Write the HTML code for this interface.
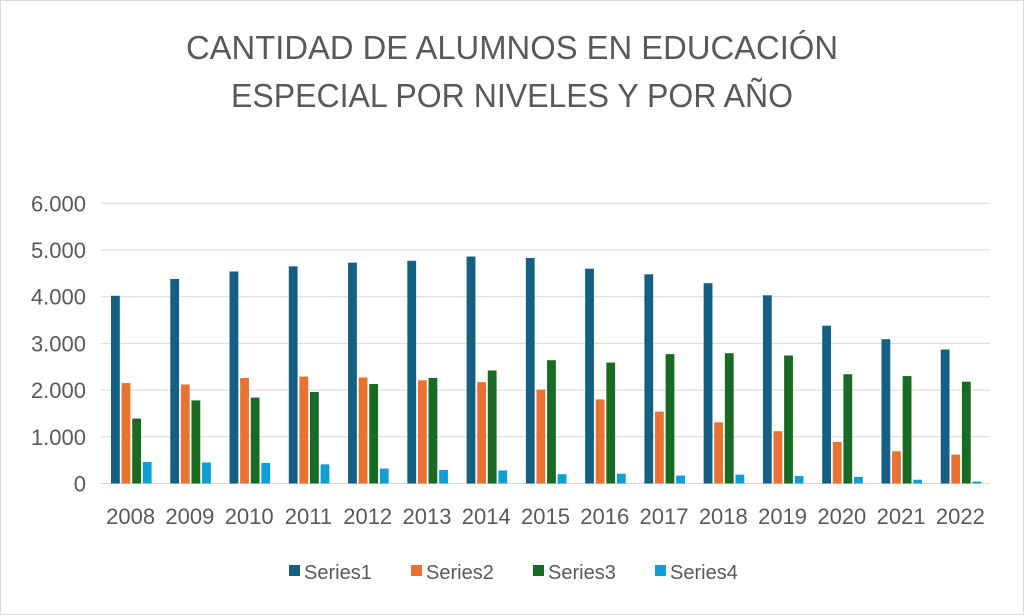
<!DOCTYPE html>
<html><head><meta charset="utf-8"><style>
html,body{margin:0;padding:0;background:#fff;}
svg{display:block;font-family:"Liberation Sans",sans-serif;}
</style></head><body>
<svg width="1024" height="615" xmlns="http://www.w3.org/2000/svg">
<rect x="0.5" y="0.5" width="1023" height="614" fill="#fff" stroke="#d9d9d9"/>
<text x="512" y="59" text-anchor="middle" font-size="33" fill="#595959" textLength="652" lengthAdjust="spacingAndGlyphs">CANTIDAD DE ALUMNOS EN EDUCACIÓN</text>
<text x="512" y="107" text-anchor="middle" font-size="33" fill="#595959" textLength="562" lengthAdjust="spacingAndGlyphs">ESPECIAL POR NIVELES Y POR AÑO</text>
<g id="grid" stroke="#d9d9d9" stroke-width="1"></g>
<g id="ylab" font-size="22" fill="#595959" text-anchor="end"></g>
<g id="bars"></g>
<g id="xlab" font-size="22" fill="#595959" text-anchor="middle"></g>
<g font-size="20" fill="#595959">
<rect x="289" y="565" width="11" height="11" fill="#156082"/><text x="304" y="579">Series1</text>
<rect x="411" y="565" width="11" height="11" fill="#e97132"/><text x="426" y="579">Series2</text>
<rect x="533" y="565" width="11" height="11" fill="#196b24"/><text x="548" y="579">Series3</text>
<rect x="655" y="565" width="11" height="11" fill="#0f9ed5"/><text x="670" y="579">Series4</text>
</g>
</svg>
<script>
var NS="http://www.w3.org/2000/svg";
function el(p,t,a,txt){var e=document.createElementNS(NS,t);for(var k in a)e.setAttribute(k,a[k]);if(txt!==undefined)e.textContent=txt;document.getElementById(p).appendChild(e);}
var y0=483.5,u=46.7/1000,L=101,R=990;
var labs=["0","1.000","2.000","3.000","4.000","5.000","6.000"];
for(var i=0;i<=6;i++){var y=y0-i*1000*u;el("grid","line",{x1:L,x2:R,y1:y,y2:y});el("ylab","text",{x:86,y:y+8},labs[i]);}
var d=[[4020,4380,4540,4650,4730,4770,4860,4830,4600,4480,4290,4030,3380,3090,2870],
[2150,2120,2260,2290,2270,2210,2170,2010,1800,1540,1310,1120,890,690,620],
[1390,1780,1840,1960,2130,2260,2420,2640,2590,2770,2790,2740,2340,2300,2180],
[460,450,440,410,320,290,280,200,210,170,190,160,140,80,40]];
var c=["#156082","#e97132","#196b24","#0f9ed5"];
var w=(R-L)/15;
for(var j=0;j<15;j++){var gx=L+j*w+10;
for(var s=0;s<4;s++){var h=d[s][j]*u;el("bars","rect",{x:gx+s*10.6,y:y0-h,width:8.8,height:h,fill:c[s]});}
el("xlab","text",{x:L+j*w+w/2,y:524},String(2008+j));}
</script>
</body></html>
